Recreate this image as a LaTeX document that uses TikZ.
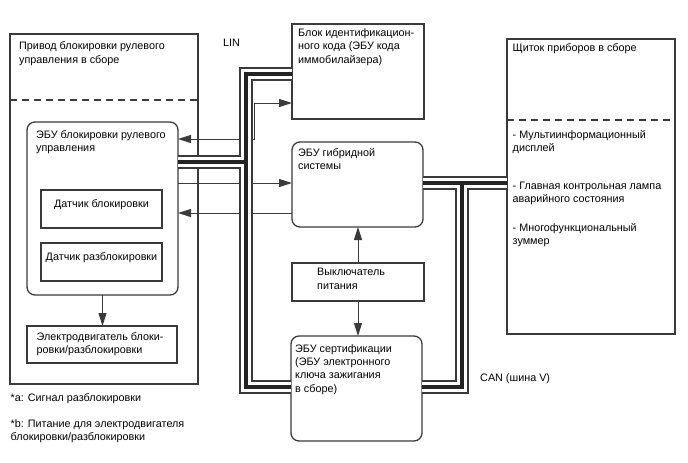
\documentclass[tikz,border=0pt]{standalone}
\usepackage{fontspec}
\setmainfont{Liberation Sans}
\usetikzlibrary{positioning, arrows.meta}
\definecolor{lineColor}{RGB}{58,58,58}
\definecolor{busColor}{RGB}{35,35,35}
\tikzstyle{diagram} = [x = 1pt, y = -1pt, font=\fontsize{10.8}{13.4}\selectfont, >={Triangle[length=13pt, width=8pt]}]
\tikzstyle{blockStyle} = [draw=lineColor, line width=1.3pt, inner sep=0pt, outer sep=0pt, anchor=north west]
\tikzstyle{roundBlockStyle} = [blockStyle, rounded corners=.28cm]
\tikzstyle{blockText} = [inner sep=0pt, align=left, anchor=north west]
\tikzstyle{dividerLine} = [draw=lineColor, line width=1.3pt, dash pattern=on 7pt off 5pt]
\tikzstyle{signalLine} = [draw=lineColor, line width=1pt]
\tikzstyle{busOuter} = [draw=lineColor, line width=14pt]
\tikzstyle{busGap} = [draw=white, line width=9.5pt]
\tikzstyle{busCore} = [draw=busColor, line width=4.2pt]
\newcommand{\block}[5]{\node [blockStyle, minimum width=#4pt, minimum height=#5pt] (#1) at (#2,#3) {};}
\newcommand{\roundBlock}[5]{\node [roundBlockStyle, minimum width=#4pt, minimum height=#5pt] (#1) at (#2,#3) {};}
% LIN and CAN lines, called once per layer
\newcommand{\busLines}[1]{
  \draw [#1] (idBox.west |- linTop) -- (linTop) -- (linBottom) -- (certEcu.west |- linBottom);
  \draw [#1] (steerEcu.east |- linJoint) -- (linJoint);
  \draw [#1] (hybridEcu.east |- canJoint) -- (meterAssy.west |- canJoint);
  \draw [#1] (canJoint) -- (canBottom) -- (certEcu.east |- canBottom);
}

\begin{document}
\begin{tikzpicture}[diagram]
  \useasboundingbox (0,0) rectangle (688,463);

  % steering lock actuator
  \block{steerAssy}{10}{34}{188}{350}
  \node [blockText, below right=7.5pt and 9pt of steerAssy.north west] (steerAssyText) {Привод блокировки рулевого\\управления в сборе};
  \draw [dividerLine] ([yshift=-66pt]steerAssy.north west) -- ([yshift=-66pt]steerAssy.north east);
  \roundBlock{steerEcu}{27}{122}{151}{173}
  \node [blockText, below right=8pt and 9pt of steerEcu.north west] (steerEcuText) {ЭБУ блокировки рулевого\\управления};
  \block{lockSensor}{41}{190}{121}{38}
  \node [blockText, anchor=north, below=9pt of lockSensor.north] (lockSensorText) {Датчик блокировки};
  \block{unlockSensor}{41}{243}{121}{38}
  \node [blockText, anchor=north, below=9.5pt of unlockSensor.north] (unlockSensorText) {Датчик разблокировки};
  \block{lockMotor}{27}{326}{150}{37}
  \node [blockText, below right=6pt and 9.5pt of lockMotor.north west] (lockMotorText) {Электродвигатель блоки-\\ровки/разблокировки};

  % middle column
  \block{idBox}{292}{24}{132}{95}
  \node [blockText, below right=4.5pt and 6pt of idBox.north west] (idBoxText) {Блок идентификацион-\\ного кода (ЭБУ кода\\иммобилайзера)};
  \roundBlock{hybridEcu}{292}{142}{131}{85}
  \node [blockText, below right=6pt and 6pt of hybridEcu.north west] (hybridEcuText) {ЭБУ гибридной\\системы};
  \block{powerSwitch}{292}{263}{132}{38}
  \node [blockText, below right=5pt and 25pt of powerSwitch.north west] (powerSwitchText) {Выключатель\\питания};
  \roundBlock{certEcu}{291}{336}{131}{105}
  \node [blockText, below right=8pt and 4pt of certEcu.north west] (certEcuText) {ЭБУ сертификации\\(ЭБУ электронного\\ключа зажигания\\в сборе)};

  % combination meter
  \block{meterAssy}{507}{39}{168}{295}
  \node [blockText, below right=4.5pt and 5.5pt of meterAssy.north west] (meterAssyText) {Щиток приборов в сборе};
  \draw [dividerLine] ([yshift=-81pt]meterAssy.north west) -- ([yshift=-81pt]meterAssy.north east);
  \node [blockText, below right=91pt and 5.5pt of meterAssy.north west] (meterDisplay) {- Мультиинформационный\\дисплей};
  \node [blockText, below right=142.7pt and 5.5pt of meterAssy.north west] (meterLamp) {- Главная контрольная лампа\\аварийного состояния};
  \node [blockText, below right=184.3pt and 5.5pt of meterAssy.north west] (meterBuzzer) {- Многофункциональный\\зуммер};

  % labels
  \node [blockText] (linLabel) at (223,39) {LIN};
  \node [blockText] (canLabel) at (480,373) {CAN (шина V)};
  \node [blockText] (noteA) at (10.5,393) {*a: Сигнал разблокировки};
  \node [blockText] (noteB) at (10.5,419) {*b: Питание для электродвигателя\\блокировки/разблокировки};

  % signal lines
  \coordinate (idLinkLow) at (254,139);
  \coordinate (idLinkHigh) at (254,103);
  \coordinate (lockSignal) at (0,183);
  \coordinate (stateSignal) at (0,213);
  \draw [signalLine, <->] (steerEcu.east |- idLinkLow) -- (idLinkLow) -- (idLinkHigh) -- (idBox.west |- idLinkHigh);
  \draw [signalLine, ->] (steerEcu.east |- lockSignal) -- (hybridEcu.west |- lockSignal);
  \draw [signalLine, ->] (hybridEcu.west |- stateSignal) -- (steerEcu.east |- stateSignal);
  \draw [signalLine, ->] (powerSwitch.north) -- (powerSwitch.north |- hybridEcu.south);
  \draw [signalLine, ->] (powerSwitch.south) -- (powerSwitch.south |- certEcu.north);
  \draw [signalLine, ->] (steerEcu.south) -- (steerEcu.south |- lockMotor.north);

  % buses
  \coordinate (linTop) at (246,74);
  \coordinate (linJoint) at (246,162);
  \coordinate (linBottom) at (246,387);
  \coordinate (canJoint) at (462,183);
  \coordinate (canBottom) at (462,387);
  \busLines{busOuter}
  \busLines{busGap}
  \busLines{busCore}
\end{tikzpicture}
\end{document}
